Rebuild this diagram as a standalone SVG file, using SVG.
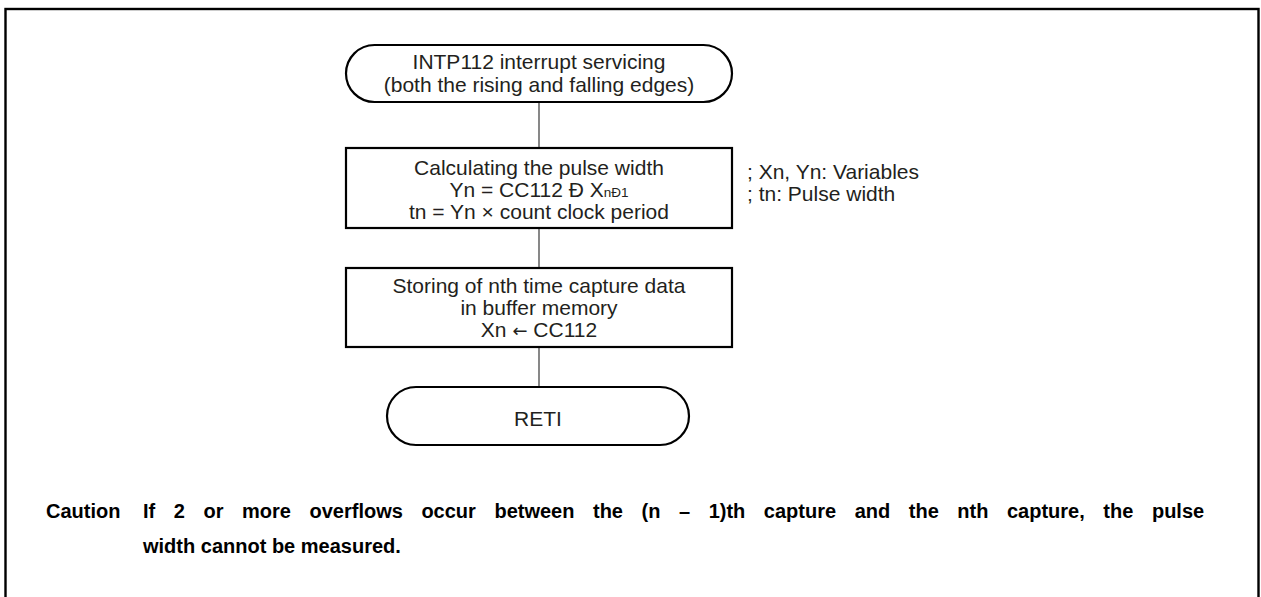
<svg xmlns="http://www.w3.org/2000/svg" width="1261" height="597" viewBox="0 0 1261 597">
<defs>
<style>
.frame{fill:none;stroke:#000;stroke-width:2.4}
.node{fill:#fff;stroke:#000;stroke-width:2.2}
.conn{stroke:#555;stroke-width:1.4;fill:none}
.t{font-family:"Liberation Sans",Arial,sans-serif;font-size:21px;fill:#231f20;text-anchor:middle}
.a{font-family:"Liberation Sans",Arial,sans-serif;font-size:21px;fill:#231f20}
.c{font-family:"Liberation Sans",Arial,sans-serif;font-size:20px;font-weight:bold;fill:#000}
.sym{font-family:"DejaVu Sans",sans-serif;font-size:18px}
</style>
</defs>
<rect class="frame" x="5.5" y="9" width="1253" height="620"/>
<g id="connectors">
<line class="conn" x1="539" y1="102" x2="539" y2="148"/>
<line class="conn" x1="539" y1="228" x2="539" y2="268"/>
<line class="conn" x1="539" y1="347" x2="539" y2="387"/>
</g>
<g id="start">
<rect class="node" x="346" y="45" width="386" height="57" rx="28.5" ry="28.5"/>
<text class="t" x="539" y="69">INTP112 interrupt servicing</text>
<text class="t" x="539" y="92">(both the rising and falling edges)</text>
</g>
<g id="calc">
<rect class="node" x="346" y="148" width="386" height="80"/>
<text class="t" x="539" y="175">Calculating the pulse width</text>
<text class="t" x="539" y="197">Yn = CC112 Ð X<tspan font-size="13.5">nÐ1</tspan></text>
<text class="t" x="539" y="219">tn = Yn × count clock period</text>
</g>
<g id="note">
<text class="a" x="747" y="179">; Xn, Yn: Variables</text>
<text class="a" x="747" y="201">; tn: Pulse width</text>
</g>
<g id="store">
<rect class="node" x="346" y="268" width="386" height="79"/>
<text class="t" x="539" y="293">Storing of nth time capture data</text>
<text class="t" x="539" y="315">in buffer memory</text>
<text class="t" x="539" y="337">Xn <tspan class="sym">←</tspan> CC112</text>
</g>
<g id="reti">
<rect class="node" x="387" y="387" width="302" height="58" rx="29" ry="29"/>
<text class="t" x="538" y="426">RETI</text>
</g>
<g id="caution">
<text class="c" x="46" y="518">Caution</text>
<text class="c" x="143" y="518" word-spacing="13">If 2 or more overflows occur between the (n – 1)th capture and the nth capture, the pulse</text>
<text class="c" x="143" y="553">width cannot be measured.</text>
</g>
</svg>
